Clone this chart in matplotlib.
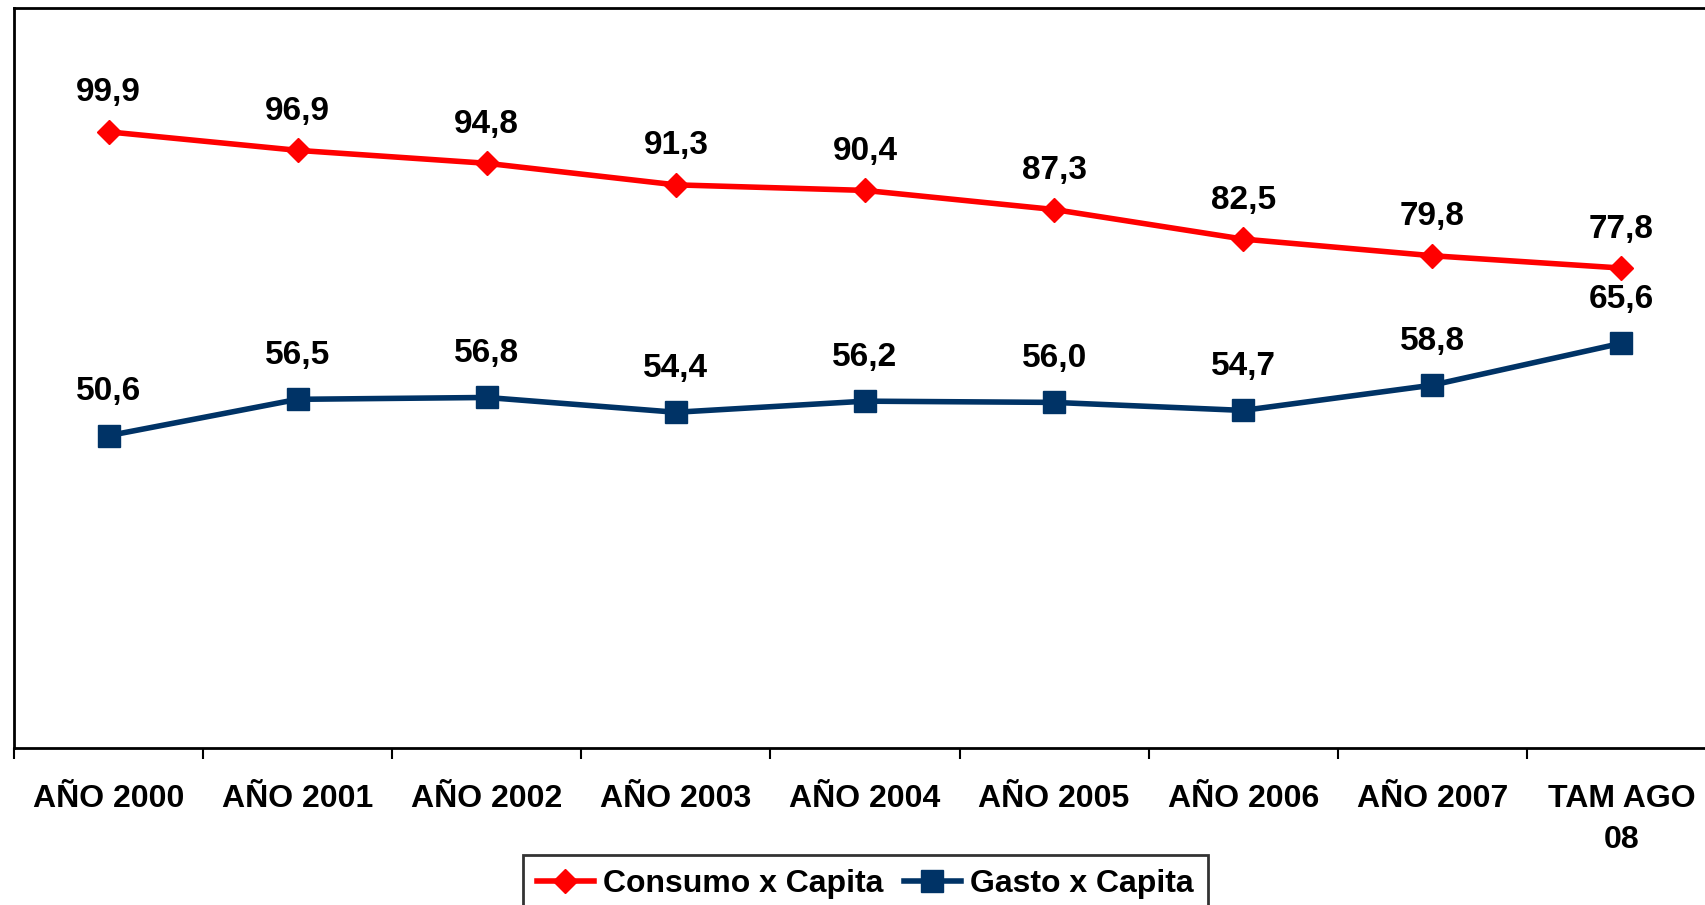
import numpy as np
import matplotlib.pyplot as plt
from matplotlib.ticker import FixedLocator

plt.rcParams['font.family'] = ['Liberation Sans', 'DejaVu Sans']
plt.rcParams['font.weight'] = 'bold'

###################
    #DATA#
###################

categories = ['AÑO 2000', 'AÑO 2001', 'AÑO 2002', 'AÑO 2003', 'AÑO 2004',
              'AÑO 2005', 'AÑO 2006', 'AÑO 2007', 'TAM AGO\n08']
consumo = [99.9, 96.9, 94.8, 91.3, 90.4, 87.3, 82.5, 79.8, 77.8]
gasto = [50.6, 56.5, 56.8, 54.4, 56.2, 56.0, 54.7, 58.8, 65.6]

red = '#FF0000'
navy = '#003366'

#################
    #PLOTS#
#################

fig = plt.figure(figsize=(17.06, 9.05), dpi=100)
ax = fig.add_axes([14 / 1706, 1 - 747.5 / 905, 1702 / 1706, 739.5 / 905])

x = np.arange(len(categories))
ax.plot(x, consumo, color=red, lw=4, marker='D', ms=12.5,
        label='Consumo x Capita')
ax.plot(x, gasto, color=navy, lw=4, marker='s', ms=16.5,
        label='Gasto x Capita')

# data labels
for xi, v in zip(x, consumo):
    ax.annotate(f'{v:.1f}'.replace('.', ','), (xi, v), xytext=(0, 22),
                textcoords='offset points', ha='center', va='baseline',
                fontsize=24, fontweight='bold')
for xi, v in zip(x, gasto):
    ax.annotate(f'{v:.1f}'.replace('.', ','), (xi, v), xytext=(0, 25.5),
                textcoords='offset points', ha='center', va='baseline',
                fontsize=24, fontweight='bold')

ax.set_xlim(-0.5, len(categories) - 0.5)
ax.set_ylim(0, 120)
ax.set_yticks([])

ax.set_xticks(x)
ax.set_xticklabels(categories, fontsize=23, fontweight='bold', linespacing=1.45)
ax.tick_params(axis='x', which='major', length=0, pad=26.5)
ax.xaxis.set_minor_locator(FixedLocator(np.arange(-0.5, len(categories), 1)))
ax.tick_params(axis='x', which='minor', length=8, width=1.5, direction='out')

for s in ax.spines.values():
    s.set_linewidth(2)
    s.set_color('black')

leg = fig.legend(loc='upper left', bbox_to_anchor=(523 / 1706, 1 - 855 / 905),
                 ncol=2, fontsize=23, frameon=True, fancybox=False,
                 handlelength=1.76, handletextpad=0.3, columnspacing=0.65,
                 borderaxespad=0, borderpad=0.45, markerscale=1.0)
leg.get_frame().set_edgecolor('black')
leg.get_frame().set_linewidth(2)
for t in leg.get_texts():
    t.set_fontweight('bold')

fig.savefig('out.png', dpi=100)
